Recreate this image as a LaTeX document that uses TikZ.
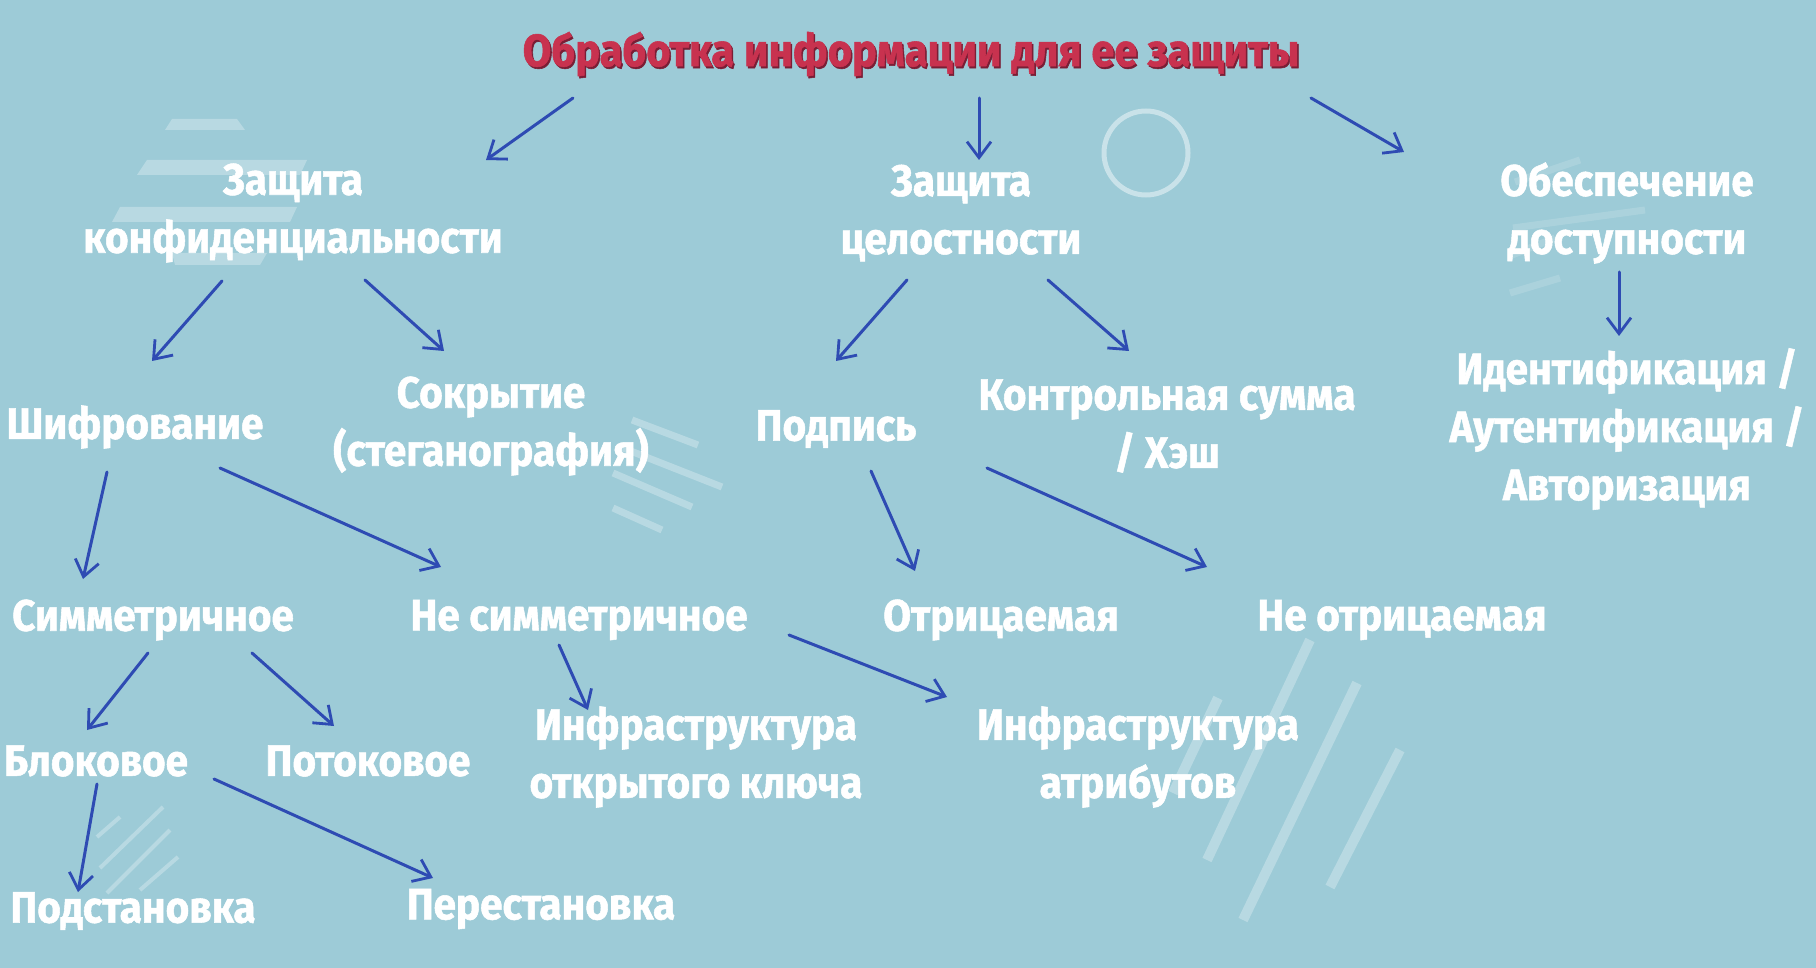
\documentclass[tikz,border=0pt]{standalone}
\usepackage{fontspec}
\setmainfont{Fira Sans}
\newfontfamily\lblfont{Fira Sans}[UprightFont={* Bold}, FakeStretch=0.92, FakeBold=1.2]
\usetikzlibrary{arrows.meta,calc}
\definecolor{bg}{HTML}{9DCBD7}
\definecolor{arrowblue}{HTML}{2E4BB3}
\definecolor{titlered}{HTML}{C8324F}
\definecolor{titleshadow}{HTML}{7A1E35}
\tikzset{
  lbl/.style={text=white, font=\lblfont\fontsize{22}{29}\selectfont, align=center, inner sep=0pt},
  ttl/.style={text=titlered, font=\lblfont\fontsize{22.6}{29}\selectfont, inner sep=0pt},
  arr/.style={draw=arrowblue, line width=1.5pt, line cap=round, -{Straight Barb[length=8pt,width=12pt,line width=1.4pt]}},
  decostripe/.style={fill=white, fill opacity=0.28, draw=none},
  decoline/.style={draw=white, draw opacity=0.28, line cap=butt},
}
\begin{document}
\begin{tikzpicture}[x=0.5pt,y=-0.5pt]
\useasboundingbox (0,0) rectangle (1816,968);
\fill[bg] (0,0) rectangle (1816,968);
% decorations
\fill[decostripe] (172,119) -- (237,119) -- (245,130) -- (165,130) -- cycle;
\fill[decostripe] (147,160) -- (307,160) -- (300,175) -- (137,175) -- cycle;
\fill[decostripe] (120,207) -- (297,207) -- (290,222) -- (112,222) -- cycle;
\fill[decostripe] (172,253) -- (267,253) -- (260,265) -- (175,265) -- cycle;
\draw[decoline, line width=3.5pt] (632,420) -- (698,445);
\draw[decoline, line width=3.5pt] (623,448) -- (722,487);
\draw[decoline, line width=3.5pt] (613,473) -- (692,507);
\draw[decoline, line width=3.5pt] (613,508) -- (662,530);
\draw[draw=white, draw opacity=0.45, line width=2.5pt] (1146,153) circle[radius=42];
\draw[decoline, draw opacity=0.15, line width=3.5pt] (1515,182) -- (1580,160);
\draw[decoline, draw opacity=0.15, line width=3.5pt] (1513,228) -- (1645,210);
\draw[decoline, draw opacity=0.15, line width=3.5pt] (1512,255) -- (1555,238);
\draw[decoline, draw opacity=0.15, line width=3.5pt] (1510,293) -- (1560,278);
\draw[decoline, line width=2pt] (97,837) -- (120,817);
\draw[decoline, line width=2pt] (100,868) -- (163,807);
\draw[decoline, line width=2pt] (107,893) -- (170,830);
\draw[decoline, line width=2pt] (140,890) -- (178,857);
\draw[decoline, line width=5pt] (1310,640) -- (1207,860);
\draw[decoline, line width=5pt] (1357,683) -- (1243,920);
\draw[decoline, line width=5pt] (1400,750) -- (1330,887);
\draw[decoline, line width=5pt] (1218,698) -- (1173,793);
% title
\node[ttl, text=titleshadow] at (912.5,56) {Обработка информации для ее защиты};
\node[ttl] (T) at (911,54) {Обработка информации для ее защиты};
% level 1
\node[lbl] (C1) at (293,213) {Защита\\конфиденциальности};
\node[lbl] (C2) at (961,213) {Защита\\целостности};
\node[lbl] (C3) at (1627,213) {Обеспечение\\доступности};
% level 2
\node[lbl] (S) at (135,427) {Шифрование};
\node[lbl] (K) at (491,426) {Сокрытие\\(стеганография)};
\node[lbl] (P) at (836,429) {Подпись};
\node[lbl] (H) at (1167,426) {Контрольная сумма\\/ Хэш};
\node[lbl] (I) at (1627,429) {Идентификация /\\Аутентификация /\\Авторизация};
% level 3
\node[lbl] (SY) at (153,620) {Симметричное};
\node[lbl] (AS) at (579,620) {Не симметричное};
\node[lbl] (O) at (1001,620) {Отрицаемая};
\node[lbl] (NO) at (1402,620) {Не отрицаемая};
% level 4
\node[lbl] (B) at (96,761) {Блоковое};
\node[lbl] (PT) at (368,761) {Потоковое};
\node[lbl] (PK) at (696,757) {Инфраструктура\\открытого ключа};
\node[lbl] (AT) at (1138,757) {Инфраструктура\\атрибутов};
% level 5
\node[lbl] (PS) at (133,911) {Подстановка};
\node[lbl] (PR) at (541,909) {Перестановка};
% arrows
\draw[arr] ([shift={(-338,44)}]T.center) -- ([shift={(193,-53)}]C1.center);
\draw[arr] ([shift={(68,44)}]T.center) -- ([shift={(18,-53)}]C2.center);
\draw[arr] ([shift={(400,44)}]T.center) -- ([shift={(-223,-61)}]C3.center);
\draw[arr] ([shift={(-71,68)}]C1.center) -- ([shift={(17,-66)}]S.center);
\draw[arr] ([shift={(72,67)}]C1.center) -- ([shift={(-47,-75)}]K.center);
\draw[arr] ([shift={(-54,67)}]C2.center) -- ([shift={(0,-68)}]P.center);
\draw[arr] ([shift={(87,67)}]C2.center) -- ([shift={(-38,-75)}]H.center);
\draw[arr] ([shift={(-8,59)}]C3.center) -- ([shift={(-8,-93)}]I.center);
\draw[arr] ([shift={(-28,45)}]S.center) -- ([shift={(-70,-41)}]SY.center);
\draw[arr] ([shift={(85,41)}]S.center) -- ([shift={(-138,-53)}]AS.center);
\draw[arr] ([shift={(35,42)}]P.center) -- ([shift={(-86,-49)}]O.center);
\draw[arr] ([shift={(151,39)}]P.center) -- ([shift={(-195,-53)}]NO.center);
\draw[arr] ([shift={(-5,33)}]SY.center) -- ([shift={(-9,-31)}]B.center);
\draw[arr] ([shift={(99,33)}]SY.center) -- ([shift={(-34,-35)}]PT.center);
\draw[arr] ([shift={(-20,25)}]AS.center) -- ([shift={(-108,-47)}]PK.center);
\draw[arr] ([shift={(210,15)}]AS.center) -- ([shift={(-191,-60)}]AT.center);
\draw[arr] ([shift={(1,23)}]B.center) -- ([shift={(-55,-19)}]PS.center);
\draw[arr] ([shift={(118,18)}]B.center) -- ([shift={(-108,-31)}]PR.center);
\end{tikzpicture}
\end{document}
